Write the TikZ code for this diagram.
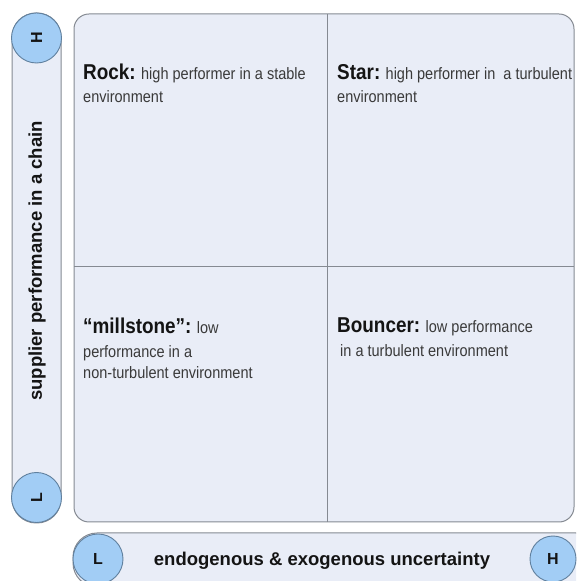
\documentclass[tikz,border=0pt]{standalone}
\usepackage{fontspec}
\setmainfont{Liberation Sans}
\newfontfamily\narrowfont[FakeStretch=0.88]{Liberation Sans}
\definecolor{panelfill}{HTML}{E9EDF7}
\definecolor{panelline}{HTML}{858A92}
\definecolor{dotfill}{HTML}{A2CDF5}
\definecolor{dotline}{HTML}{60809E}
\definecolor{headink}{HTML}{141414}
\definecolor{bodyink}{HTML}{3A3A3A}
\tikzset{
  panel/.style={fill=panelfill, draw=panelline, line width=1pt},
  divider/.style={draw=panelline, line width=1pt},
  dot/.style={circle, fill=dotfill, draw=dotline, line width=0.9pt,
    minimum size=50pt, inner sep=0pt, font=\bfseries\fontsize{16}{16}\selectfont, text=headink},
  % multi-line nodes: the base anchor sits on the last line
  quad/.style={anchor=base west, align=left, inner sep=0pt, text=bodyink,
    font=\narrowfont\fontsize{16.5}{21.5}\selectfont},
  axislabel/.style={inner sep=0pt, text=headink, font=\bfseries\fontsize{18.5}{20}\selectfont}
}
\newcommand{\qname}[1]{{\color{headink}\bfseries\fontsize{21.5}{22}\selectfont #1}}
\begin{document}
\begin{tikzpicture}[x=1pt,y=1pt]
  \useasboundingbox (0,0) rectangle (576,581);
  \begin{scope}
    \clip (0,0) rectangle (576,581);
    % main four-field panel
    \path[panel, rounded corners=15pt] (74,59) rectangle (574,567);
    \draw[divider] (327,59) -- (327,567);
    \draw[divider] (74,314) -- (574,314);
    % vertical axis bar
    \path[panel, rounded corners=24pt] (12,58) rectangle (61,568);
    % horizontal axis bar
    \path[panel, rounded corners=24pt] (73,-6) rectangle (600,48);
  \end{scope}

  % axis end markers
  \node[dot, rotate=90] (yhigh) at (36.5,543) {H};
  \node[dot, rotate=90] (ylow) at (36.5,83.5) {L};
  \node[dot] (xlow) at (98,22) {L};
  \node[dot, minimum size=46pt] (xhigh) at (553,22) {H};

  % axis titles
  \node[axislabel, rotate=90] (ytitle) at (37,320) {supplier performance in a chain};
  \node[axislabel] (xtitle) at (322,20) {endogenous \& exogenous uncertainty};

  % quadrant descriptions
  \node[quad] (rock) at (83,478) {\qname{Rock:} high performer in a stable\\[1.5pt]environment};
  \node[quad] (star) at (337,478) {\qname{Star:} high performer in\ \ a turbulent\\[1.5pt]environment};
  \node[quad] (millstone) at (83,202) {\qname{“millstone”:} low\\[2.5pt]performance in a\\non-turbulent environment};
  \node[quad] (bouncer) at (337,224) {\qname{Bouncer:} low performance\\[2.5pt]\hspace{3pt}in a turbulent environment};
\end{tikzpicture}
\end{document}
